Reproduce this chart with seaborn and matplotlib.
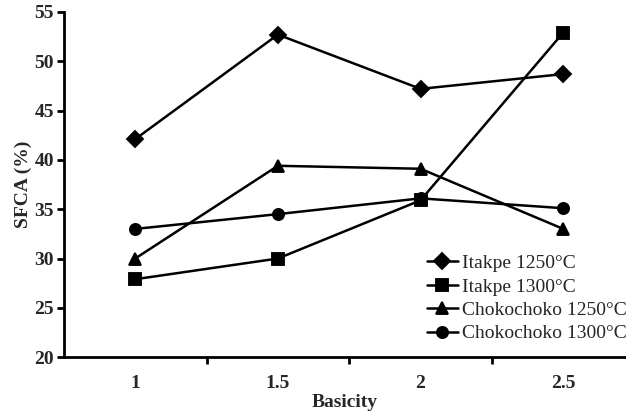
import matplotlib
matplotlib.use("Agg")
import matplotlib.pyplot as plt
import pandas as pd
import seaborn as sns

basicity = ["1", "1.5", "2", "2.5"]
series_names = ["Itakpe 1250°C", "Itakpe 1300°C", "Chokochoko 1250°C", "Chokochoko 1300°C"]
itakpe_1250 = [42.1, 52.7, 47.2, 48.7]
itakpe_1300 = [27.9, 30.0, 35.9, 52.9]
choko_1250 = [30.0, 39.4, 39.1, 33.0]
choko_1300 = [33.0, 34.5, 36.1, 35.1]

sns.set_theme(style="ticks")
plt.rcParams["font.family"] = ["Liberation Serif", "DejaVu Serif"]

rows = []
for name, vals in zip(series_names, [itakpe_1250, itakpe_1300, choko_1250, choko_1300]):
    for b, v in zip(basicity, vals):
        rows.append({"Basicity": b, "SFCA": v, "series": name})
df = pd.DataFrame(rows)

fig = plt.figure(figsize=(6.26, 4.11), dpi=100)
ax = fig.add_axes([0.102, 0.131, 0.898, 0.84])

markers = ["D", "s", "^", "o"]
sns.pointplot(data=df, x="Basicity", y="SFCA", hue="series", order=basicity,
              hue_order=series_names, palette=["black"] * 4, markers=markers,
              linestyles="-", errorbar=None, dodge=False, ax=ax,
              markersize=8, linewidth=1.8)

ax.set_ylim(20, 55)
ax.set_yticks(range(20, 56, 5))
ax.set_xlim(-0.5, 3.44)
ax.set_xticks([0, 1, 2, 3])
ax.set_xticklabels(basicity)
ax.tick_params(axis="x", length=0, pad=13, labelsize=14)
ax.set_xticks([0.5, 1.5, 2.5], minor=True)
ax.tick_params(axis="x", which="minor", length=5, width=2, direction="out", color="black")
ax.tick_params(axis="y", length=5, width=2, direction="out", labelsize=14, pad=2, color="black")
for lab in ax.get_xticklabels() + ax.get_yticklabels():
    lab.set_fontweight("bold")

for side in ["top", "right"]:
    ax.spines[side].set_visible(False)
for side in ["left", "bottom"]:
    ax.spines[side].set_linewidth(2)
    ax.spines[side].set_color("black")

ax.set_xlabel("Basicity", fontsize=14, fontweight="bold", labelpad=1)
ax.set_ylabel("SFCA (%)", fontsize=14, fontweight="bold", labelpad=2)

ax.legend(loc="lower right", bbox_to_anchor=(1.015, 0.02), frameon=False, fontsize=14,
          handlelength=1.6, handletextpad=0.2, labelspacing=0.3, borderaxespad=0.0)

fig.savefig("out.png", dpi=100)
